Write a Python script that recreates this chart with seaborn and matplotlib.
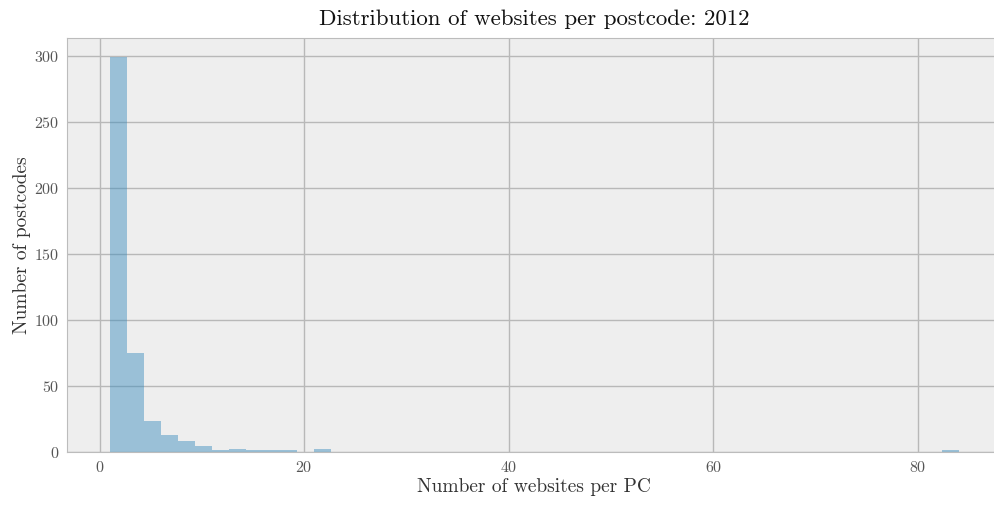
import numpy as np
import pandas as pd
import matplotlib
matplotlib.use("Agg")
import matplotlib.pyplot as plt
import seaborn as sns

# websites per postcode, 50 equal-width bins between min and max
data_min = 1
data_max = 84
n_bins = 50
counts = [299, 75, 23, 13, 8, 4, 1, 2, 1, 1,
          1, 0, 2, 0, 0, 0, 0, 0, 0, 0,
          0, 0, 0, 0, 0, 0, 0, 0, 0, 0,
          0, 0, 0, 0, 0, 0, 0, 0, 0, 0,
          0, 0, 0, 0, 0, 0, 0, 0, 0, 1]

edges = np.linspace(data_min, data_max, n_bins + 1)
df = pd.DataFrame({'websites': (edges[:-1] + edges[1:]) / 2, 'postcodes': counts})

plt.style.use('bmh')
plt.rcParams['font.family'] = ['cmr10', 'DejaVu Serif']
plt.rcParams['axes.formatter.use_mathtext'] = True

fig = plt.figure(figsize=(9.94, 5.05), dpi=100)
# the original figure is cut off on the right, so the axes run past the edge
ax = fig.add_axes([0.0677, 0.1055, 0.9396, 0.8198])

sns.histplot(data=df, x='websites', weights='postcodes', bins=n_bins,
             binrange=(data_min, data_max),
             color='#348ABD', alpha=0.45, linewidth=0, ax=ax)

ax.set_title("Distribution of websites per postcode: 2012", fontsize=16.5, color='#111111', pad=9)
ax.set_xlabel("Number of websites per PC", fontsize=14, color='#333333', labelpad=2)
ax.set_ylabel("Number of postcodes", fontsize=14, color='#333333', labelpad=2)
ax.set_xticks([0, 20, 40, 60, 80])
ax.set_yticks([0, 50, 100, 150, 200, 250, 300])
ax.tick_params(length=0, labelsize=11.5, labelcolor='#555555', pad=6)
ax.grid(True, color='#b8b8b8', linewidth=1, linestyle='-')
ax.set_axisbelow(True)

fig.savefig('out.png', dpi=100)
